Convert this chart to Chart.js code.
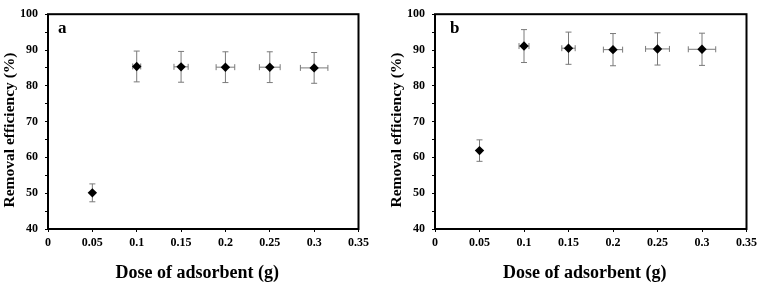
<!DOCTYPE html>
<html><head><meta charset="utf-8">
<script src="https://cdn.jsdelivr.net/npm/chart.js@4"></script>
<style>
html,body{margin:0;padding:0;background:#fff;width:761px;height:285px;overflow:hidden}
.p{position:absolute;top:0}
</style></head><body>
<div class="p" style="left:0"><canvas id="ca" width="380" height="285"></canvas></div>
<div class="p" style="left:380px"><canvas id="cb" width="381" height="285"></canvas></div>
<script>
// ---- data ----
const doses = [0.05, 0.10, 0.15, 0.20, 0.25, 0.30];
const effA  = [50.1, 85.4, 85.3, 85.2, 85.2, 85.0];
const errYA = [2.5, 4.3, 4.3, 4.3, 4.3, 4.3];
const errXA = [0, 0.0045, 0.008, 0.0105, 0.0117, 0.0155];
const effB  = [61.9, 91.1, 90.5, 90.1, 90.3, 90.2];
const errYB = [3.0, 4.6, 4.5, 4.5, 4.5, 4.5];
const errXB = [0, 0.0056, 0.0075, 0.0108, 0.0134, 0.0154];
const xTicks = [0, 0.05, 0.1, 0.15, 0.2, 0.25, 0.3, 0.35];
const xTickLabels = ['0', '0.05', '0.1', '0.15', '0.2', '0.25', '0.3', '0.35'];
const yTicks = [40, 45, 50, 55, 60, 65, 70, 75, 80, 85, 90, 95, 100];
const yTickLabels = ['40', '', '50', '', '60', '', '70', '', '80', '', '90', '', '100'];
const xTitle = 'Dose of adsorbent (g)';
const yTitle = 'Removal efficiency (%)';

const FONT = '"Liberation Serif", "Times New Roman", serif';

const errorBars = {
  id: 'errorBars',
  beforeDatasetsDraw(chart) {
    const { ctx, scales: { x, y } } = chart;
    ctx.save();
    ctx.strokeStyle = '#7a7a7a';
    ctx.lineWidth = 1;
    const seg = (a, b, c, d) => { ctx.beginPath(); ctx.moveTo(a, b); ctx.lineTo(c, d); ctx.stroke(); };
    chart.data.datasets.forEach(ds => {
      ds.data.forEach((p, i) => {
        const px = x.getPixelForValue(p.x), py = y.getPixelForValue(p.y);
        const ey = ds.errY[i], ex = ds.errX[i];
        if (ey) {
          const t = y.getPixelForValue(p.y + ey), b = y.getPixelForValue(p.y - ey);
          seg(px, t, px, b); seg(px - 3, t, px + 3, t); seg(px - 3, b, px + 3, b);
        }
        if (ex) {
          const l = x.getPixelForValue(p.x - ex), r = x.getPixelForValue(p.x + ex);
          seg(l, py, r, py); seg(l, py - 3, l, py + 3); seg(r, py - 3, r, py + 3);
        }
      });
    });
    ctx.restore();
  }
};

const frameAndText = {
  id: 'frameAndText',
  afterDraw(chart, args, opts) {
    const { ctx, chartArea: a } = chart;
    ctx.save();
    ctx.strokeStyle = '#000';
    ctx.lineWidth = 2;
    ctx.strokeRect(a.left, a.top, a.right - a.left, a.bottom - a.top);
    ctx.fillStyle = '#000';
    // panel letter
    ctx.font = 'bold 17px ' + FONT;
    ctx.textAlign = 'left';
    ctx.textBaseline = 'alphabetic';
    ctx.fillText(opts.letter, a.left + opts.letterDx, 33);
    // x title
    ctx.font = 'bold 18px ' + FONT;
    ctx.textAlign = 'center';
    ctx.textBaseline = 'middle';
    ctx.fillText(xTitle, (a.left + a.right) / 2 - 6, 273.5);
    // y title
    ctx.translate(opts.yTitleX, 130);
    ctx.rotate(-Math.PI / 2);
    ctx.font = 'bold 15.5px ' + FONT;
    ctx.fillText(yTitle, 0, 0);
    ctx.restore();
  }
};

function makeChart(id, eff, errY, errX, letter, axisW, padRight, yTitleX, letterDx) {
  return new Chart(document.getElementById(id), {
    type: 'scatter',
    data: {
      datasets: [{
        data: doses.map((d, i) => ({ x: d, y: eff[i] })),
        errY: errY, errX: errX,
        pointStyle: 'rectRot',
        pointRadius: 4.7,
        pointHoverRadius: 4.7,
        backgroundColor: '#000',
        borderColor: '#000',
        borderWidth: 0
      }]
    },
    options: {
      responsive: false,
      animation: false,
      events: [],
      layout: { padding: { left: 0, right: padRight, top: 7, bottom: 0 } },
      plugins: {
        legend: { display: false },
        tooltip: { enabled: false },
        frameAndText: { letter: letter, yTitleX: yTitleX, letterDx: letterDx }
      },
      scales: {
        x: {
          type: 'linear', min: 0, max: 0.35,
          afterBuildTicks: s => { s.ticks = xTicks.map(v => ({ value: v })); },
          afterFit: s => { s.height = 56; },
          ticks: {
            autoSkip: false, maxRotation: 0, padding: 4,
            color: '#000', font: { family: FONT, size: 12, weight: 'bold' },
            callback: (v, i) => xTickLabels[i]
          },
          grid: { drawOnChartArea: false, drawTicks: true, tickLength: 3, color: '#000', lineWidth: 1 },
          border: { display: false }
        },
        y: {
          type: 'linear', min: 40, max: 100,
          afterBuildTicks: s => { s.ticks = yTicks.map(v => ({ value: v })); },
          afterFit: s => { s.width = axisW; },
          ticks: {
            autoSkip: false, padding: 7,
            color: '#000', font: { family: FONT, size: 12, weight: 'bold' },
            callback: (v, i) => yTickLabels[i]
          },
          grid: { drawOnChartArea: false, drawTicks: true, tickLength: 3, color: '#000', lineWidth: 1 },
          border: { display: false }
        }
      }
    },
    plugins: [errorBars, frameAndText]
  });
}

makeChart('ca', effA, errYA, errXA, 'a', 48, 21.5, 9.5, 10);
makeChart('cb', effB, errYB, errXB, 'b', 55, 12.7, 16.5, 15);
</script>
</body></html>
